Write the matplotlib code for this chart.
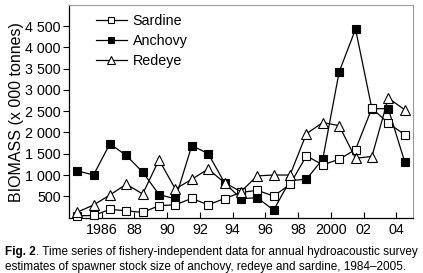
import numpy as np
import matplotlib
matplotlib.use("Agg")
import matplotlib.pyplot as plt
from matplotlib.ticker import FuncFormatter

plt.rcParams['font.family'] = ['Liberation Sans', 'DejaVu Sans']

# survey years (points plotted mid-year)
years = np.arange(1984, 2005)
sardine = [40, 50, 190, 160, 120, 280, 300, 450, 300, 445, 590,
           640, 505, 780, 1450, 1240, 1370, 1600, 2570, 2220, 1950]
anchovy = [1100, 1000, 1735, 1460, 1070, 540, 440, 1690, 1505, 820, 445,
           465, 175, 870, 900, 1375, 3425, 4430, 2560, 2560, 1315]
redeye = [125, 295, 530, 785, 555, 1355, 670, 900, 1140, 820, 610,
          980, 1000, 1000, 1970, 2235, 2160, 1395, 1435, 2810, 2535]

xticks = np.arange(1986, 2005, 2)
xlabels = ['1986', '88', '90', '92', '94', '96', '98', '2000', '02', '04']
yticks = np.arange(500, 5000, 500)

fig = plt.figure(figsize=(4.23, 2.73), dpi=100)
ax = fig.add_axes([0.163, 0.2, 0.813, 0.782])

x = years + 0.5
la, = ax.plot(x, anchovy, '-s', color='black', lw=0.9, ms=6.3,
              mfc='black', mec='black', mew=0.8, clip_on=False, zorder=2)
ls, = ax.plot(x, sardine, '-s', color='black', lw=0.9, ms=6.3,
              mfc='white', mec='black', mew=0.8, clip_on=False, zorder=3)
lr, = ax.plot(x, redeye, '-^', color='black', lw=0.9, ms=7.5,
              mfc='white', mec='black', mew=0.8, clip_on=False, zorder=4)

ax.set_xlim(1984, 2005)
ax.set_ylim(-20, 5000)
ax.set_xticks(xticks)
ax.set_xticklabels(xlabels)
ax.set_yticks(yticks)
ax.yaxis.set_major_formatter(FuncFormatter(lambda v, p: f'{int(v):,}'.replace(',', ' ')))
ax.tick_params(axis='x', direction='in', length=4, width=0.8, labelsize=10.3, pad=3)
ax.tick_params(axis='y', direction='out', length=4, width=0.8, labelsize=10.3, pad=2)
ax.set_ylabel('BIOMASS (x 000 tonnes)', fontsize=11.5, labelpad=1)

for s in ['top', 'right']:
    ax.spines[s].set_color('#999999')
for s in ['left', 'bottom']:
    ax.spines[s].set_color('black')
    ax.spines[s].set_linewidth(0.9)

ax.legend([ls, la, lr], ['Sardine', 'Anchovy', 'Redeye'], loc='upper left',
          bbox_to_anchor=(0.04, 1.02), frameon=False, fontsize=10.3,
          handlelength=2.2, handletextpad=0.4, labelspacing=0.45, markerscale=0.75)

t1 = fig.text(0.012, 0.065, 'Fig. 2', fontsize=8.5, weight='bold')
ax.annotate('. Time series of fishery-independent data for annual hydroacoustic survey',
            xy=(1, 0), xycoords=t1, fontsize=8.5, va='bottom')
fig.text(0.012, 0.012, 'estimates of spawner stock size of anchovy, redeye and sardine, 1984\u20132005.',
         fontsize=8.5)

fig.savefig('out.png', dpi=100)
